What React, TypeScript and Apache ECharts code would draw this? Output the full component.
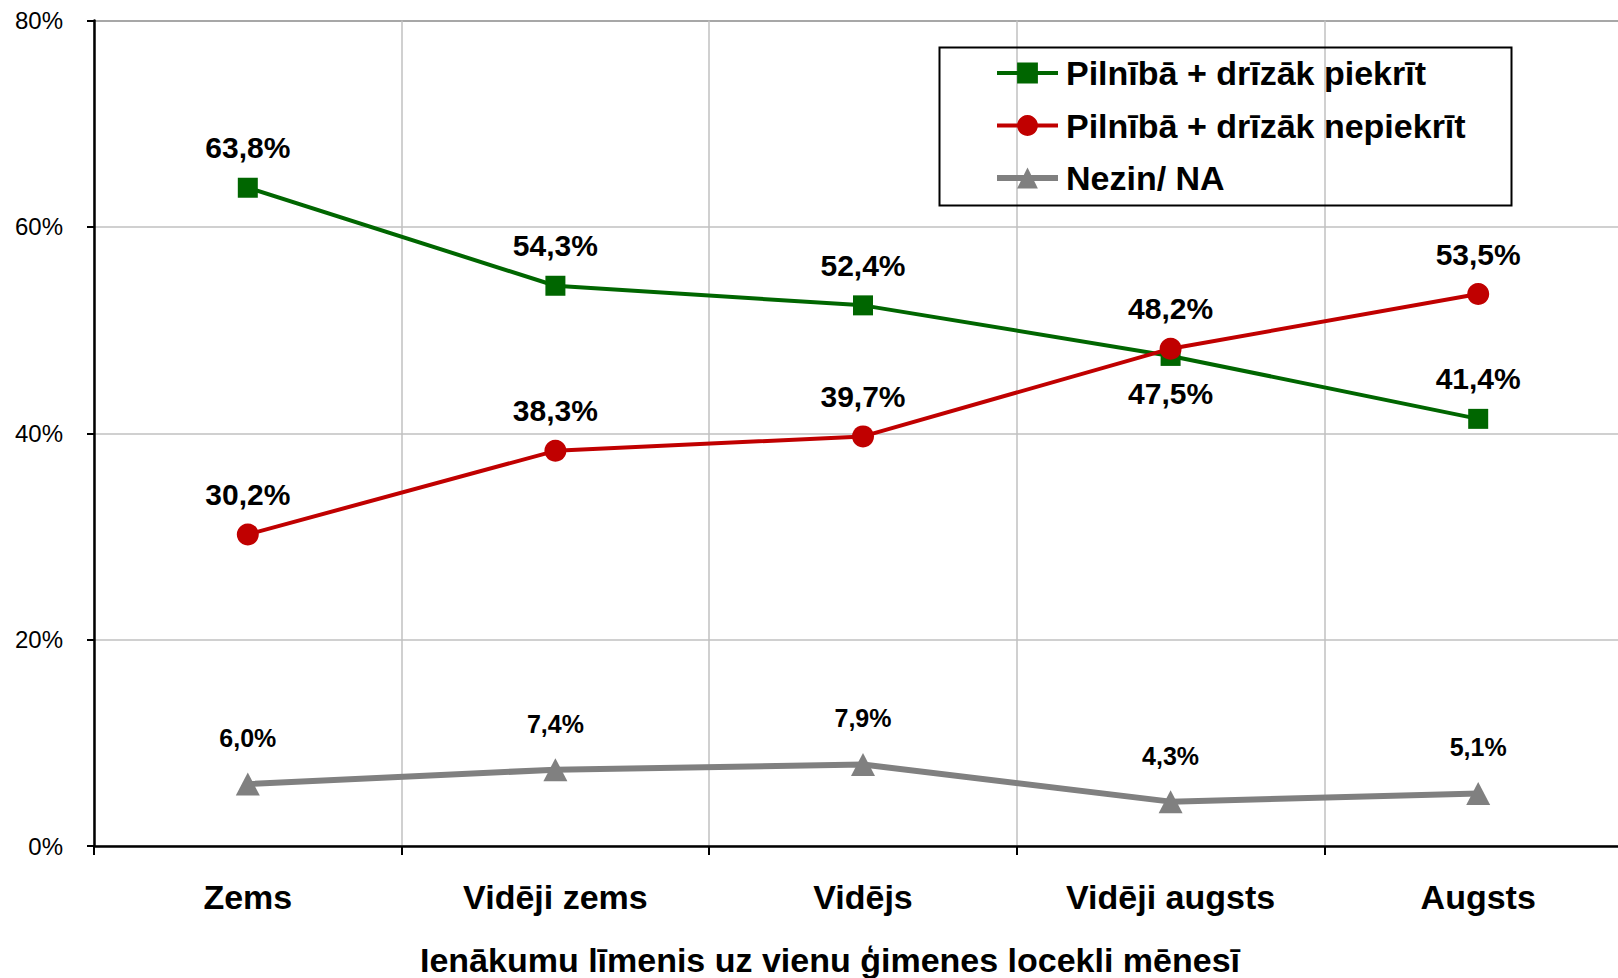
import React, { useEffect, useRef } from "react";
import * as echarts from "echarts";

const categories = ["Zems", "Vidēji zems", "Vidējs", "Vidēji augsts", "Augsts"];
const agreeName = "Pilnībā + drīzāk piekrīt";
const disagreeName = "Pilnībā + drīzāk nepiekrīt";
const dkName = "Nezin/ NA";
const agreeValues = [63.8, 54.3, 52.4, 47.5, 41.4];
const disagreeValues = [30.2, 38.3, 39.7, 48.2, 53.5];
const dkValues = [6.0, 7.4, 7.9, 4.3, 5.1];
const yTicks = [0, 20, 40, 60, 80];
const xTitle = "Ienākumu līmenis uz vienu ģimenes locekli mēnesī";

const FONT = "'Liberation Sans', Arial, sans-serif";
const fmt = (v: number) => v.toFixed(1).replace(".", ",") + "%";

export default function App() {
  const ref = useRef<HTMLDivElement>(null);
  useEffect(() => {
    if (!ref.current) return;
    document.body.style.overflow = "hidden";
    const chart = echarts.init(ref.current, null, { renderer: "svg" });
    const labelBase = {
      show: true,
      fontFamily: FONT,
      fontWeight: "bold" as const,
      color: "#000",
      formatter: (p: any) => fmt(p.value),
    };
    chart.setOption({
      animation: false,
      backgroundColor: "#fff",
      textStyle: { fontFamily: FONT },
      grid: { left: 94, top: 20.6, right: 0, bottom: 132, containLabel: false },
      xAxis: {
        type: "category",
        data: categories,
        boundaryGap: true,
        axisLine: { show: true, lineStyle: { color: "#000", width: 2.5 } },
        axisTick: { show: true, length: 9, lineStyle: { color: "#000", width: 2 } },
        axisLabel: {
          margin: 34,
          fontSize: 34,
          fontWeight: "bold",
          color: "#000",
          fontFamily: FONT,
        },
        splitLine: { show: true, lineStyle: { color: "#c0c0c0", width: 1.5 } },
      },
      yAxis: {
        type: "value",
        min: yTicks[0],
        max: yTicks[yTicks.length - 1],
        interval: 20,
        axisLine: { show: true, lineStyle: { color: "#000", width: 2.5 } },
        axisTick: { show: true, length: 7, lineStyle: { color: "#000", width: 2 } },
        axisLabel: {
          margin: 31,
          fontSize: 24,
          color: "#000",
          fontFamily: FONT,
          formatter: "{value}%",
        },
        splitLine: {
          show: true,
          lineStyle: {
            color: ["#c0c0c0", "#c0c0c0", "#c0c0c0", "#c0c0c0", "#8a8a8a"],
            width: 1.5,
          },
        },
      },
      legend: {
        left: 994,
        top: 53,
        orient: "vertical",
        padding: 0,
        itemWidth: 61,
        itemHeight: 26,
        itemGap: 12.5,
        textStyle: {
          fontFamily: FONT,
          fontWeight: "bold",
          fontSize: 34,
          color: "#000",
          lineHeight: 40,
          padding: [0, 0, 0, 3],
        },
        data: [
          { name: agreeName, lineStyle: { width: 4 } },
          { name: disagreeName, lineStyle: { width: 4 } },
          { name: dkName, lineStyle: { width: 6 } },
        ],
      },
      graphic: [
        {
          type: "rect",
          shape: { x: 939.5, y: 47.5, width: 572, height: 158 },
          style: { fill: "none", stroke: "#000", lineWidth: 2 },
          z: 10,
        },
        {
          type: "text",
          x: 830,
          y: 960,
          style: {
            text: xTitle,
            fontFamily: FONT,
            fontWeight: "bold",
            fontSize: 34,
            fill: "#000",
            align: "center",
            verticalAlign: "middle",
          },
        },
      ],
      series: [
        {
          name: agreeName,
          type: "line",
          data: agreeValues.map((v, i) =>
            i === 3
              ? { value: v, label: { position: "bottom", distance: 13 } }
              : v
          ),
          symbol: "rect",
          symbolSize: 20,
          lineStyle: { color: "#006600", width: 4 },
          itemStyle: { color: "#006600" },
          label: {
            ...labelBase,
            fontSize: 30,
            position: "top",
            distance: 15,
          },
          z: 3,
        },
        {
          name: disagreeName,
          type: "line",
          data: disagreeValues,
          symbol: "circle",
          symbolSize: 22,
          lineStyle: { color: "#c00000", width: 4 },
          itemStyle: { color: "#c00000" },
          label: {
            ...labelBase,
            fontSize: 30,
            position: "top",
            distance: 14,
          },
          z: 4,
        },
        {
          name: dkName,
          type: "line",
          data: dkValues,
          symbol: "triangle",
          symbolSize: [24, 23],
          lineStyle: { color: "#808080", width: 6 },
          itemStyle: { color: "#808080" },
          label: {
            ...labelBase,
            fontSize: 25,
            position: "top",
            distance: 22,
          },
          z: 2,
        },
      ],
    });
    return () => chart.dispose();
  }, []);
  return (
    <div
      ref={ref}
      style={{ position: "fixed", left: 0, top: 0, width: 1632, height: 978 }}
    />
  );
}
